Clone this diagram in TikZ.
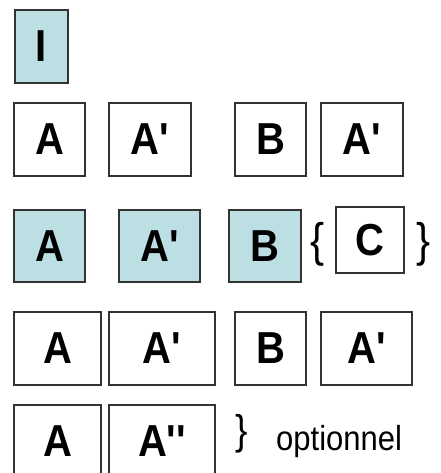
\documentclass[tikz,border=0pt]{standalone}
\usepackage{fontspec}
\usepackage{graphicx}
\usetikzlibrary{positioning}
\newfontfamily\labelfont{Liberation Sans}
\definecolor{paleblue}{RGB}{187,223,227}
\newcommand{\tall}[1]{\scalebox{1}[1.12]{#1}}
\tikzset{
  cell/.style={draw=black!80, line width=1.5pt, inner sep=0pt, minimum height=73pt,
    font=\labelfont\fontsize{40}{40}\selectfont\bfseries},
  shaded/.style={cell, fill=paleblue},
  brace/.style={inner sep=0pt, font=\labelfont\fontsize{42}{42}\selectfont}
}

\begin{document}
\begin{tikzpicture}[x=1pt,y=-1pt]
\useasboundingbox (0,0) rectangle (440,473);
\clip (0,0) rectangle (440,473);
% initial block
\node[shaded, minimum width=53pt] (I) at (41.5,46.5) {\tall{I}};
% first row
\node[cell, minimum width=71pt] (a1) at (49.5,139.5) {\tall{A}};
\node[cell, minimum width=82pt] (ap1) at (150,139.5) {\tall{A'}};
\node[cell, minimum width=71pt] (b1) at (270.5,139.5) {\tall{B}};
\node[cell, minimum width=82pt] (bp1) at (362,139.5) {\tall{A'}};
% second row, with C between braces
\node[shaded, minimum width=71pt, minimum height=72pt] (a2) at (49.5,246) {\tall{A}};
\node[shaded, minimum width=81pt, minimum height=72pt] (ap2) at (159.5,246) {\tall{A'}};
\node[shaded, minimum width=72pt, minimum height=72pt] (b2) at (265,246) {\tall{B}};
\node[cell, minimum width=68pt, minimum height=66pt] (c2) at (370,240) {\tall{C}};
\node[brace] (lb2) at (318,244) {\tall{\{}};
\node[brace] (rb2) at (424,244) {\tall{\}}};
% third row
\node[cell, minimum width=87pt] (a3) at (57.5,348.5) {\tall{A}};
\node[cell, minimum width=106pt] (ap3) at (162,348.5) {\tall{A'}};
\node[cell, minimum width=71pt] (b3) at (270.5,348.5) {\tall{B}};
\node[cell, minimum width=91pt] (bp3) at (366.5,348.5) {\tall{A'}};
% last row, optional part
\node[cell, minimum width=87pt] (a4) at (57.5,441.5) {\tall{A}};
\node[cell, minimum width=106pt] (app4) at (162,441.5) {\tall{A''}};
\node[brace, font=\labelfont\fontsize{37}{37}\selectfont] (rb4) at (242,434) {\tall{\}}};
\node[anchor=base west, inner sep=0pt, font=\labelfont\fontsize{31}{31}\selectfont] (opt) at (276,450) {\tall{optionnel}};
\end{tikzpicture}
\end{document}
